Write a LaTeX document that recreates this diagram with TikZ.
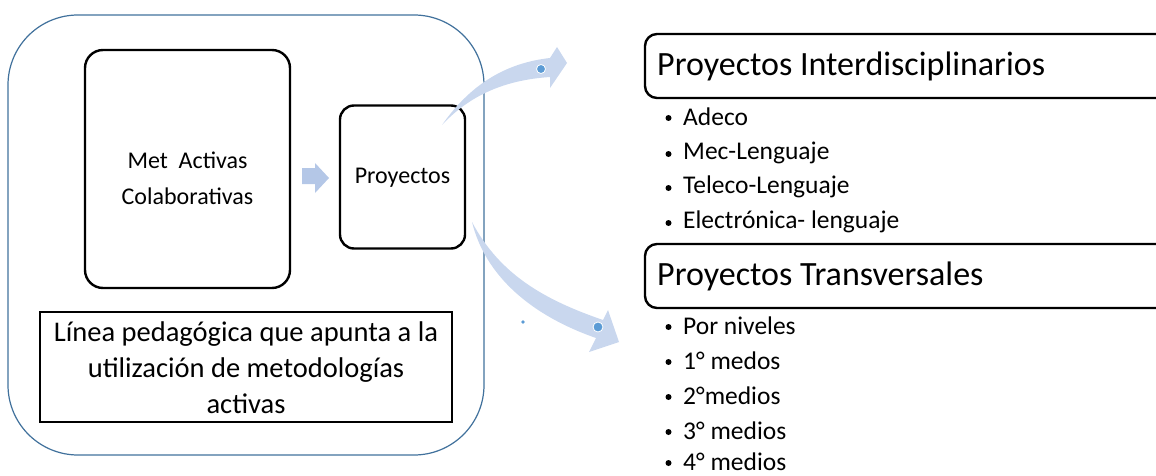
\documentclass[tikz,border=0pt]{standalone}
\usepackage{fontspec}
\setmainfont{Carlito}
\definecolor{outerblue}{HTML}{41719C}
\definecolor{arrowfill}{HTML}{C9D7EE}
\definecolor{blkfill}{HTML}{B4C7E7}
\definecolor{dotblue}{HTML}{5B9BD5}
\tikzset{
  thickbox/.style={draw=black, line width=2.4pt, rounded corners=18pt, inner sep=0pt},
  titletext/.style={anchor=west, font=\fontsize{34}{38}\selectfont, inner sep=0pt},
  itemtext/.style={anchor=west, font=\fontsize{25.5}{28}\selectfont, inner sep=0pt},
  dotmark/.style={fill=dotblue, draw=white, line width=0.8pt},
}
\begin{document}
\begin{tikzpicture}[x=1pt,y=-1pt]
\useasboundingbox (0,0) rectangle (1156,476);
% outer frame
\draw[outerblue, line width=1.2pt, rounded corners=70pt] (8,15) rectangle (484,455);
% inner boxes
\node[thickbox, minimum width=205pt, minimum height=238pt] (met) at (187.5,169) {};
\node[align=center, font=\fontsize{24}{36}\selectfont] (mettext) at (187.5,178) {Met\ \ Activas\\Colaborativas};
\node[thickbox, rounded corners=14pt, minimum width=125pt, minimum height=143pt] (proy) at (402.5,177) {};
\node[font=\fontsize{24}{28}\selectfont] (proytext) at (402.5,178) {Proyectos};
\node[draw=black, line width=1.3pt, minimum width=412pt, minimum height=110pt, inner sep=0pt] (linea) at (246,367) {};
\node[align=center, font=\fontsize{28.5}{36}\selectfont] (lineatext) at (246,368) {Línea pedagógica que apunta a la\\utilización de metodologías\\activas};
% small block arrow
\coordinate (blk) at (302,168);
\fill[blkfill] (blk) -- (315,168) -- (315,163) -- (329,178) -- (315,193) -- (315,184) -- (302,184) -- cycle;
% right titles
\node[titletext] (t1) at (657,66) {Proyectos Interdisciplinarios};
\draw[line width=2.4pt, rounded corners=12pt] (1158,34) -- (645,34) -- (645,98) -- (1158,98);
\node[titletext] (t2) at (657,276) {Proyectos Transversales};
\draw[line width=2.4pt, rounded corners=12pt] (1158,244) -- (645,244) -- (645,308) -- (1158,308);
% bullet lists
\foreach \y/\t [count=\i] in {117/Adeco, 153/Mec-Lenguaje, 187/Teleco-Lenguaje, 222/Electrónica- lenguaje}{
  \fill (668.5,\y+1) circle (3pt);
  \node[itemtext] (a\i) at (683,\y) {\t};
}
\foreach \y/\t [count=\i] in {326/Por niveles, 361/1° medos, 396/2°medios, 431/3° medios, 462/4° medios}{
  \fill (668.5,\y+1) circle (3pt);
  \node[itemtext] (b\i) at (683,\y) {\t};
}
% curved arrows
\coordinate (s1) at (442,125);
\fill[arrowfill] (s1) .. controls (470,85) and (505,63) .. (550,58)
  -- (557,47) -- (567,63) -- (550,88) -- (550,77)
  .. controls (505,80) and (470,95) .. (s1) -- cycle;
\fill[dotmark] (541,69) circle (4.5pt);
\coordinate (s2) at (472,222);
\fill[arrowfill] (s2) .. controls (500,275) and (545,300) .. (603,320)
  -- (608,310) -- (619,342) -- (589,352) -- (596,338)
  .. controls (530,315) and (485,275) .. (s2) -- cycle;
\fill[dotmark] (598,327) circle (5pt);
\fill[dotblue] (523,322) circle (1.8pt);
\end{tikzpicture}
\end{document}
